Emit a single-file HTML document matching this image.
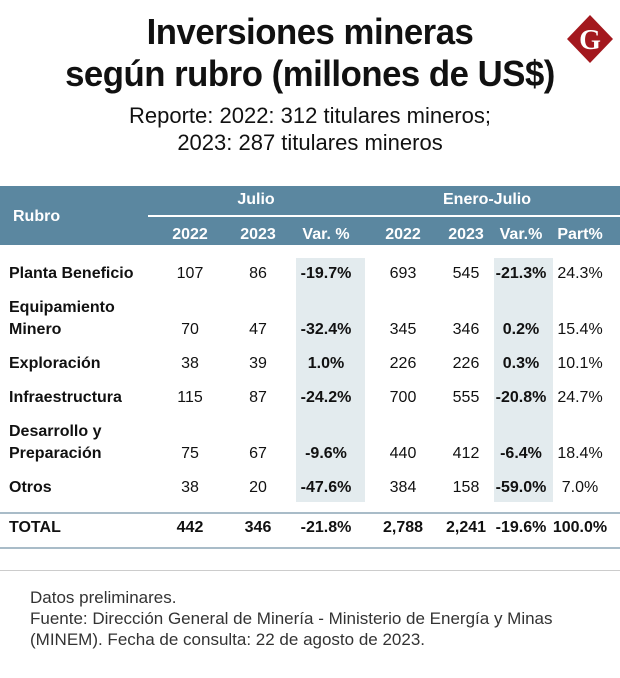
<!DOCTYPE html>
<html><head><meta charset="utf-8">
<style>
body{margin:0;width:620px;height:678px;background:#fff;position:relative;overflow:hidden;font-family:"Liberation Sans Narrow","Liberation Sans",sans-serif;color:#111}
.a{position:absolute;white-space:nowrap}
.t{font-family:"Liberation Sans",sans-serif;font-weight:bold;font-size:36px;left:0;width:620px;text-align:center;letter-spacing:-0.5px;transform:scaleX(0.965);transform-origin:310px 0}
.s{font-family:"Liberation Sans",sans-serif;font-size:22px;left:0;width:620px;text-align:center}
.c{text-align:center;width:70px;font-size:16px}
.h{color:#fff;font-weight:bold;font-size:16px}
.lbl{left:9px;font-size:16px;font-weight:bold}
.b{font-weight:bold}
.f{left:30px;font-family:"Liberation Sans",sans-serif;font-size:17px;color:#333}
</style></head><body>
<div class="a t" style="top:11px">Inversiones mineras</div>
<div class="a t" style="top:53px">según rubro (millones de US$)</div>
<div class="a s" style="top:103px">Reporte: 2022: 312 titulares mineros;</div>
<div class="a s" style="top:130px">2023: 287 titulares mineros</div>
<svg class="a" style="left:566px;top:14px" width="48" height="50"><polygon points="24,1 47,25 24,49 1,25" fill="#a3181e"/><text x="24" y="35" text-anchor="middle" font-family="Liberation Serif" font-weight="bold" font-size="28" fill="#fff">G</text></svg>

<div class="a" style="left:0;top:186px;width:620px;height:59px;background:#5b87a0"></div>
<div class="a" style="left:148px;top:215px;width:472px;height:2px;background:#fff"></div>
<div class="a" style="left:296px;top:258px;width:69px;height:244px;background:#e3ebee"></div>
<div class="a" style="left:494px;top:258px;width:59px;height:244px;background:#e3ebee"></div>
<div class="a" style="left:0;top:512px;width:620px;height:2px;background:#a9bcc8"></div>
<div class="a" style="left:0;top:547px;width:620px;height:2px;background:#a9bcc8"></div>
<div class="a" style="left:0;top:570px;width:620px;height:1px;background:#ccc"></div>

<div class="a h" style="left:13px;top:208px">Rubro</div>
<div class="a h c" style="left:221px;top:191px">Julio</div>
<div class="a h" style="left:443px;top:191px">Enero-Julio</div>
<div id="tbl"></div>

<div class="a f" style="top:588px">Datos preliminares.</div>
<div class="a f" style="top:609px">Fuente: Dirección General de Minería - Ministerio de Energía y Minas</div>
<div class="a f" style="top:630px">(MINEM). Fecha de consulta: 22 de agosto de 2023.</div>

<script>
const colHeaders=["2022","2023","Var. %","2022","2023","Var.%","Part%"];
const rubros=[["Planta Beneficio"],["Equipamiento","Minero"],["Exploración"],["Infraestructura"],["Desarrollo y","Preparación"],["Otros"]];
const julio2022=["107","70","38","115","75","38"];
const julio2023=["86","47","39","87","67","20"];
const julioVar=["-19.7%","-32.4%","1.0%","-24.2%","-9.6%","-47.6%"];
const ej2022=["693","345","226","700","440","384"];
const ej2023=["545","346","226","555","412","158"];
const ejVar=["-21.3%","0.2%","0.3%","-20.8%","-6.4%","-59.0%"];
const part=["24.3%","15.4%","10.1%","24.7%","18.4%","7.0%"];
const total=["442","346","-21.8%","2,788","2,241","-19.6%","100.0%"];

const colX=[190,258,326,403,466,521,580];
const rowY=[265,321,355,389,445,479];
const root=document.getElementById('tbl');
function add(txt,cls,x,y,w){const d=document.createElement('div');d.className='a '+cls;d.textContent=txt;d.style.left=x+'px';d.style.top=y+'px';if(w)d.style.width=w+'px';root.appendChild(d);return d;}
colHeaders.forEach((h,i)=>{const d=add(h,'h c',colX[i]-35,226);

});
const cols=[julio2022,julio2023,julioVar,ej2022,ej2023,ejVar,part];
rubros.forEach((r,i)=>{
  r.forEach((line,k)=>{const d=add(line,'lbl',9,rowY[i]-(r.length-1-k)*22);
  
  });
  cols.forEach((col,j)=>{const d=add(col[i],'c'+((j==2||j==5)?' b':''),colX[j]-35,rowY[i]);
  
  });
});
const tl=add('TOTAL','lbl',9,519);


total.forEach((v,j)=>{const d=add(v,'c b',colX[j]-35,519);

});
</script>
</body></html>
